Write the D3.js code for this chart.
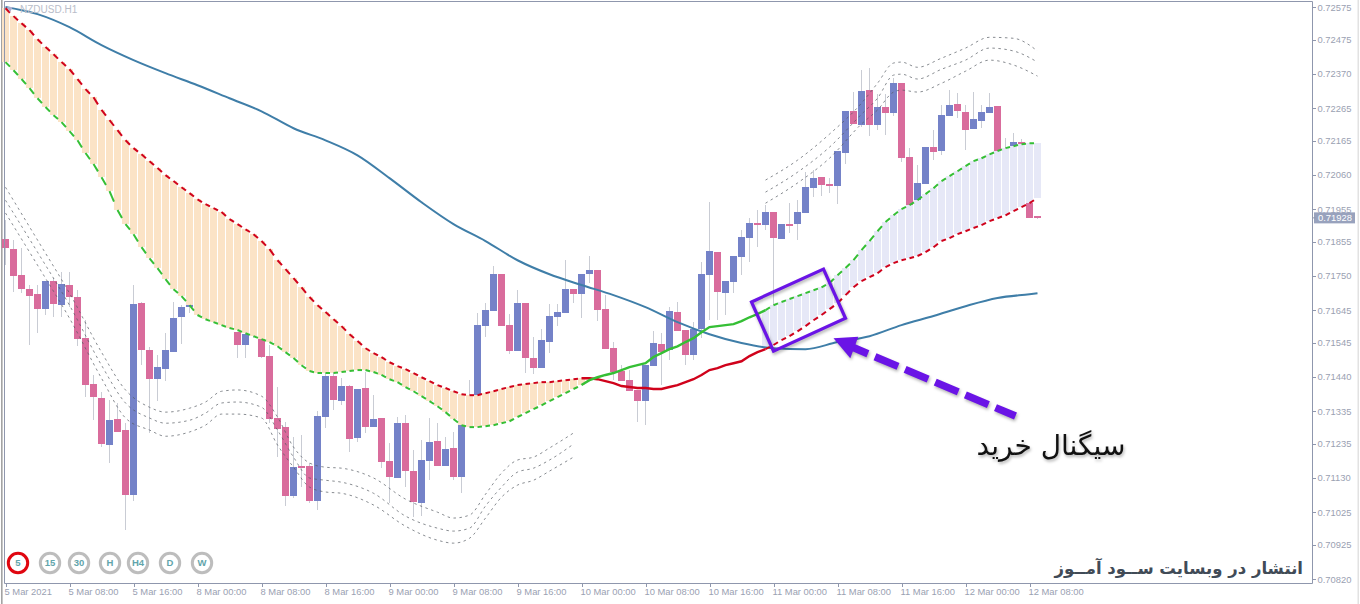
<!DOCTYPE html>
<html lang="en">
<head>
<meta charset="utf-8">
<title>NZDUSD H1</title>
<script src="https://cdn.jsdelivr.net/npm/d3@7/dist/d3.min.js"></script>
<style>
html,body{margin:0;padding:0;background:#fff;overflow:hidden}
svg{display:block}
</style>
</head>
<body>
<div id="chart"></div>
<script>
// Prices are in points (1 point = 0.00001)
const open = [71863,71832,71752,71709,71694,71648,71734,71660,71722,71685,
71559,71418,71375,71231,71311,71277,71077,71666,71522,71433,
71464,71516,71623,71654,71676,71657,71630,71645,71620,71577,
71538,71568,71559,71504,71314,71286,71074,71166,71166,71059,
71317,71443,71366,71412,71252,71406,71286,71314,71182,71130,
71298,71151,71053,71182,71243,71166,71222,71133,71295,71384,
71596,71642,71755,71599,71519,71666,71498,71467,71547,71623,
71636,71709,71694,71755,71768,71648,71528,71458,71430,71400,
71366,71473,71541,71522,71639,71584,71507,71587,71752,71823,
71697,71731,71808,71866,71912,71906,71946,71863,71909,71909,
71943,72019,72053,72032,72025,72127,72255,72213,72320,72213,
72268,72249,72341,72114,71979,72032,72145,72133,72240,72277,
72252,72200,72225,72249,72271,72142,72148,72160,72151,71933];
const close = [71835,71749,71709,71688,71648,71734,71663,71725,71685,71556,
71415,71378,71234,71307,71271,71077,71663,71522,71433,71470,
71522,71620,71654,71660,71657,71645,71648,71620,71590,71538,
71571,71608,71501,71311,71280,71074,71163,71163,71059,71320,
71443,71369,71412,71249,71403,71286,71311,71179,71133,71298,
71151,71056,71185,71240,71166,71219,71133,71292,71381,71599,
71645,71755,71596,71519,71666,71498,71467,71553,71627,71639,
71709,71694,71755,71768,71645,71525,71455,71427,71396,71366,
71476,71544,71516,71642,71580,71507,71587,71755,71826,71700,
71734,71811,71869,71912,71906,71946,71866,71909,71906,71946,
72022,72050,72028,72025,72133,72255,72216,72317,72213,72268,
72249,72341,72111,71967,72035,72145,72130,72243,72274,72255,
72197,72231,72252,72268,72130,72111,72160,72154,71927,71928];
const high = [71921,71860,71835,71722,71722,71734,71743,71762,71762,71706,
71614,71446,71393,71369,71360,71298,71722,71670,71531,71507,
71574,71670,71660,71666,71685,71666,71657,71657,71639,71577,
71584,71620,71568,71538,71409,71301,71255,71262,71176,71335,
71452,71452,71436,71415,71403,71455,71384,71314,71237,71317,
71323,71216,71246,71314,71298,71255,71271,71292,71430,71636,
71666,71780,71755,71633,71706,71666,71562,71587,71663,71663,
71798,71709,71755,71811,71768,71691,71547,71476,71461,71400,
71476,71580,71574,71654,71670,71584,71608,71792,71976,71823,
71734,71811,71890,71927,71952,71967,71946,71909,71973,71982,
72068,72074,72053,72050,72133,72255,72314,72381,72387,72308,
72308,72357,72341,72142,72090,72145,72197,72274,72320,72311,
72274,72314,72274,72311,72271,72173,72188,72170,72151,71933];
const low = [71783,71700,71697,71538,71574,71630,71623,71623,71654,71534,
71378,71307,71225,71176,71271,70970,71059,71476,71268,71366,
71427,71516,71541,71636,71645,71630,71620,71611,71590,71498,
71498,71559,71498,71298,71194,71044,71068,71102,71053,71031,
71283,71338,71354,71209,71240,71268,71286,71160,71053,71130,
71102,71010,71013,71123,71166,71166,71123,71083,71292,71384,
71562,71642,71596,71510,71519,71452,71449,71467,71513,71596,
71636,71666,71620,71728,71611,71525,71430,71427,71396,71301,
71292,71473,71415,71492,71580,71476,71492,71559,71614,71614,
71630,71697,71752,71792,71838,71890,71660,71863,71881,71860,
71943,71992,71995,72004,71970,72093,72216,72206,72179,72197,
72182,72240,72099,71967,71979,72032,72105,72120,72240,72234,
72136,72200,72203,72249,72130,72111,72148,72154,71927,71924];

const fastMA = [72406,72381,72354,72326,72295,72268,72243,72222,72194,72166,
72127,72093,72053,72010,71952,71909,71878,71838,71804,71774,
71740,71709,71688,71660,71630,71617,71608,71599,71590,71584,
71574,71565,71556,71547,71534,71516,71498,71476,71458,71452,
71452,71452,71455,71458,71461,71461,71455,71446,71433,71424,
71409,71396,71381,71366,71350,71332,71311,71292,71286,71286,
71289,71292,71298,71304,71317,71329,71341,71353,71366,71378,
71390,71403,71415,71430,71439,71446,71452,71461,71470,71476,
71482,71501,71513,71525,71534,71547,71559,71577,71593,71596,
71599,71602,71611,71623,71633,71645,71660,71670,71679,71688,
71697,71706,71715,71728,71752,71774,71798,71829,71857,71887,
71915,71936,71955,71967,71982,72001,72019,72041,72056,72071,
72087,72102,72111,72123,72133,72142,72148,72154,72157,72157];
const slowMA = [72571,72547,72525,72504,72476,72452,72430,72406,72384,72354,
72323,72298,72259,72228,72197,72166,72142,72123,72102,72081,
72059,72041,72022,72004,71985,71970,71958,71946,71924,71909,
71893,71878,71857,71832,71798,71771,71743,71715,71685,71660,
71639,71617,71596,71571,71550,71528,71513,71501,71485,71473,
71464,71452,71439,71427,71415,71406,71396,71387,71384,71384,
71390,71396,71403,71409,71415,71418,71421,71424,71424,71427,
71430,71433,71436,71436,71433,71427,71421,71412,71409,71406,
71406,71403,71403,71409,71415,71424,71433,71446,71461,71467,
71476,71482,71488,71504,71516,71525,71538,71553,71565,71580,
71596,71614,71630,71648,71666,71691,71715,71734,71746,71758,
71777,71789,71798,71804,71811,71823,71838,71857,71866,71878,
71887,71897,71906,71918,71927,71936,71949,71961,71973,71989];

const trendBars = [0,4,8,12,16,20,24,28,32,36,40,44,48,52,56,60,64,68,72,76,80,84,88,92,96,100,104,108,112,116,120,124,128,129];
const trendMA = [72575,72553,72513,72458,72412,72372,72335,72295,72255,72203,72166,72120,72050,71976,71909,71857,71798,71755,71722,71691,71654,71608,71571,71544,71528,71525,71547,71565,71599,71627,71657,71682,71694,71697];

const bandBarsA = [0,4,8,12,15,18,20,23,25,27,29,32,34,36,38,40,42,46,50,54,56,58,60,62,64,66,68,71];
const bandUpperA = [72022,71860,71697,71516,71400,71347,71332,71344,71363,71396,71400,71381,71317,71225,71176,71163,71160,71130,71065,71025,71007,71016,71080,71145,71185,71194,71222,71268];
const bandMidA = [71982,71823,71660,71476,71360,71314,71298,71307,71329,71360,71363,71347,71277,71194,71130,71123,71117,71083,71013,70976,70967,70976,71044,71102,71148,71160,71185,71234];
const bandLowerA = [71943,71783,71620,71436,71314,71277,71258,71271,71292,71326,71326,71314,71231,71163,71102,71087,71083,71047,70982,70939,70930,70945,71007,71071,71108,71123,71151,71194];
const bandBarsB = [95,99,103,107,109,111,112,114,117,120,123,126,129];
const bandUpperB = [72044,72105,72185,72280,72341,72403,72406,72390,72418,72449,72482,72479,72440];
const bandMidB = [72007,72068,72145,72246,72295,72366,72369,72354,72384,72412,72449,72440,72406];
const bandLowerB = [71973,72035,72111,72216,72259,72314,72320,72314,72341,72378,72412,72397,72363];

const cloudDownEnd = 72;     // last bar of the falling cloud
const cloudUpStart = 95;     // first bar of the rising cloud

const priceTicks = [72575,72475,72370,72265,72165,72060,71955,71855,71750,71645,71545,71440,71335,71235,71130,71025,70925,70820];
const lastPrice = 71928;
const timeTickBars = [0,8,16,24,32,40,48,56,64,72,80,88,96,104,112,120,128];
const timeTickLabels = ["5 Mar 2021","5 Mar 08:00","5 Mar 16:00","8 Mar 00:00","8 Mar 08:00","8 Mar 16:00","9 Mar 00:00","9 Mar 08:00","9 Mar 16:00","10 Mar 00:00","10 Mar 08:00","10 Mar 16:00","11 Mar 00:00","11 Mar 08:00","11 Mar 16:00","12 Mar 00:00","12 Mar 08:00"];
const timeframes = ["5","15","30","H","H4","D","W"];
const tfCenters = [18,50,79,110,138,170,202];
const symbolLabel = "NZDUSD.H1";
const signalLabel = "سیگنال خرید";
const publishLabel = "انتشار در وبسایت ســود آمــوز";

// Annotation anchors, as [bar, price]
const boxBars = [93.25,102.25,105,96];
const boxPrices = [71670,71771,71620,71519];
const arrowTail = [126.25,71320];
const arrowNeck = [105.9,71531];
const arrowHeadBars = [103.5,106.6,105.6];
const arrowHeadPrices = [71559,71563,71497];

const W = 1360, H = 604;
const plot = {left:4.5, right:1312.5, top:1.5, bottom:583.5};
const x = d3.scaleLinear().domain([0,129]).range([5.5,1037.5]);
const y = d3.scaleLinear().domain([72575,70820]).range([7,579]);
const bars = d3.range(open.length);

const svg = d3.select("#chart").append("svg").attr("width",W).attr("height",H).attr("viewBox",`0 0 ${W} ${H}`);
const axisFont = "'Liberation Sans', Arial, sans-serif";
const axisColor = "#8f97ad", axisText = "#9aa1b2";

// outer window edges
svg.append("rect").attr("x",1).attr("y",0).attr("width",1.6).attr("height",H).attr("fill","#a3a3a3");
svg.append("rect").attr("x",1357.5).attr("y",0).attr("width",1.5).attr("height",H).attr("fill","#e2e2e2");

// candles
const BODY = 7;
const gC = svg.append("g").attr("shape-rendering","crispEdges");
gC.selectAll("line.wick").data(bars).join("line").attr("class","wick")
  .attr("x1",i=>x(i)).attr("x2",i=>x(i)).attr("y1",i=>y(high[i])).attr("y2",i=>y(low[i]))
  .attr("stroke","#c9ccd4").attr("stroke-width",1);
gC.selectAll("rect.body").data(bars).join("rect").attr("class","body")
  .attr("x",i=>x(i)-BODY/2).attr("width",BODY)
  .attr("y",i=>y(Math.max(open[i],close[i])))
  .attr("height",i=>Math.max(1.5,Math.abs(y(open[i])-y(close[i]))))
  .attr("fill",i=>close[i]>=open[i]?"#7482c8":"#d96c9c");

// cloud stripes
const gS = svg.append("g").attr("shape-rendering","crispEdges");
const cloudBars = bars.filter(i=>i<=cloudDownEnd||i>=cloudUpStart);
gS.selectAll("rect").data(cloudBars).join("rect")
  .attr("x",i=>x(i)-BODY/2).attr("width",BODY)
  .attr("y",i=>Math.min(y(fastMA[i]),y(slowMA[i])))
  .attr("height",i=>Math.abs(y(fastMA[i])-y(slowMA[i])))
  .attr("fill",i=>i<=cloudDownEnd?"#fbe3c6":"#e6e8f7");

// trend line
const trendLine = d3.line().x(d=>x(d[0])).y(d=>y(d[1])).curve(d3.curveMonotoneX);
svg.append("path").datum(trendBars.map((b,i)=>[b,trendMA[i]])).attr("d",trendLine)
  .attr("fill","none").attr("stroke","#3f7ea8").attr("stroke-width",2);

// envelope bands
function band(barsArr,vals){
  svg.append("path").datum(barsArr.map((b,i)=>[b,vals[i]])).attr("d",trendLine)
    .attr("fill","none").attr("stroke","#555a62").attr("stroke-width",0.7).attr("stroke-dasharray","2.5 3.5");
}
[bandUpperA,bandMidA,bandLowerA].forEach(v=>band(bandBarsA,v));
[bandUpperB,bandMidB,bandLowerB].forEach(v=>band(bandBarsB,v));

// moving averages: dashed per bar inside the cloud, solid in between
const straight = d3.line().x(d=>x(d[0])).y(d=>y(d[1]));
function ma(vals,color){
  const g = svg.append("g").attr("fill","none").attr("stroke",color);
  const segs = d3.range(vals.length-1);
  const isDash = i=>i<cloudDownEnd||i>=cloudUpStart;
  g.selectAll("path.d").data(segs.filter(isDash)).join("path").attr("class","d")
    .attr("d",i=>straight([[i,vals[i]],[i+1,vals[i+1]]]))
    .attr("pathLength",1).attr("stroke-dasharray","0.56 0.44").attr("stroke-width",2);
  const solid = d3.range(cloudDownEnd,cloudUpStart+1).map(i=>[i,vals[i]]);
  g.append("path").datum(solid).attr("d",straight).attr("stroke-width",2.4);
}
ma(slowMA,"#d0021b");
ma(fastMA,"#35bf35");

// frame + axes
svg.append("path").attr("fill","none").attr("stroke",axisColor).attr("stroke-width",1)
  .attr("d",`M${plot.left},${plot.bottom}V${plot.top}H${plot.right}V${plot.bottom}H${plot.left}`);

const yAxis = d3.axisRight(y).tickValues(priceTicks).tickFormat(d=>(d/1e5).toFixed(5)).tickSize(3).tickPadding(2);
const gy = svg.append("g").attr("transform",`translate(${plot.right},0)`).call(yAxis);
const xAxis = d3.axisBottom(x).tickValues(timeTickBars).tickFormat((d,i)=>timeTickLabels[i]).tickSize(3).tickPadding(2);
const gx = svg.append("g").attr("transform",`translate(0,${plot.bottom})`).call(xAxis);
[gx,gy].forEach(g=>{
  g.select(".domain").remove();
  g.selectAll("line").attr("stroke",axisColor).attr("shape-rendering","crispEdges");
  g.selectAll("text").attr("font-family",axisFont).attr("font-size",9.4).attr("fill",axisText);
});
gx.selectAll("text").attr("text-anchor","start").attr("dx",-1.5);

// last price tag
svg.append("rect").attr("x",1314).attr("y",y(lastPrice)-5.5).attr("width",41).attr("height",11).attr("fill","#98a2bd");
svg.append("line").attr("x1",plot.right).attr("x2",plot.right+3).attr("y1",y(lastPrice)).attr("y2",y(lastPrice)).attr("stroke",axisColor);
svg.append("text").attr("x",plot.right+5.5).attr("y",y(lastPrice)).attr("dy","0.34em")
  .attr("font-family",axisFont).attr("font-size",9.4).attr("fill","#fff").text((lastPrice/1e5).toFixed(5));

// symbol label
svg.append("path").attr("d","M7,7h6l-3,5z").attr("fill","#a9aed0");
svg.append("text").attr("x",20).attr("y",12.5).attr("font-family",axisFont).attr("font-size",10)
  .attr("fill","#b9bdc9").text(symbolLabel);

// timeframe buttons
const gT = svg.append("g").selectAll("g").data(timeframes).join("g")
  .attr("transform",(d,i)=>`translate(${tfCenters[i]},563)`);
gT.append("circle").attr("r",9.7).attr("fill","#fff").attr("stroke-width",3)
  .attr("stroke",(d,i)=>i===0?"#e00610":"#bdbdbd");
gT.append("text").attr("text-anchor","middle").attr("dy","0.36em").attr("font-family","'Liberation Sans',Arial,sans-serif")
  .attr("font-weight","bold").attr("font-size",9.5).attr("fill","#62a5ab").text(d=>d);

// annotations
const shadow = "drop-shadow(1.5px 2px 1.5px rgba(0,0,0,.3))";
const purple = "#6a14e6";
svg.append("path").datum(boxBars.map((b,i)=>[b,boxPrices[i]]))
  .attr("d",d=>straight(d)+"Z").attr("fill","none").attr("stroke",purple).attr("stroke-width",3.2)
  .style("filter",shadow);
const gA = svg.append("g").style("filter",shadow);
gA.append("line").attr("x1",x(arrowNeck[0])).attr("y1",y(arrowNeck[1]))
  .attr("x2",x(arrowTail[0])).attr("y2",y(arrowTail[1]))
  .attr("stroke",purple).attr("stroke-width",7.5)
  .attr("stroke-dasharray","25 7.7").attr("stroke-dashoffset",8.5);
gA.append("path").datum(arrowHeadBars.map((b,i)=>[b,arrowHeadPrices[i]]))
  .attr("d",d=>straight(d)+"Z").attr("fill",purple);

const arabicFont = "'DejaVu Sans','Noto Sans',sans-serif";
svg.append("text").attr("x",1051).attr("y",455).attr("text-anchor","middle").attr("direction","rtl")
  .attr("font-family",arabicFont).attr("font-size",28).attr("fill","#111")
  .style("filter","drop-shadow(1px 2px 1.5px rgba(0,0,0,.3))").text(signalLabel);
svg.append("text").attr("x",1303).attr("y",574).attr("text-anchor","start").attr("direction","rtl")
  .attr("font-family",arabicFont).attr("font-weight","bold").attr("font-size",16.5).attr("fill","#414b57")
  .text(publishLabel);
</script>
</body>
</html>
